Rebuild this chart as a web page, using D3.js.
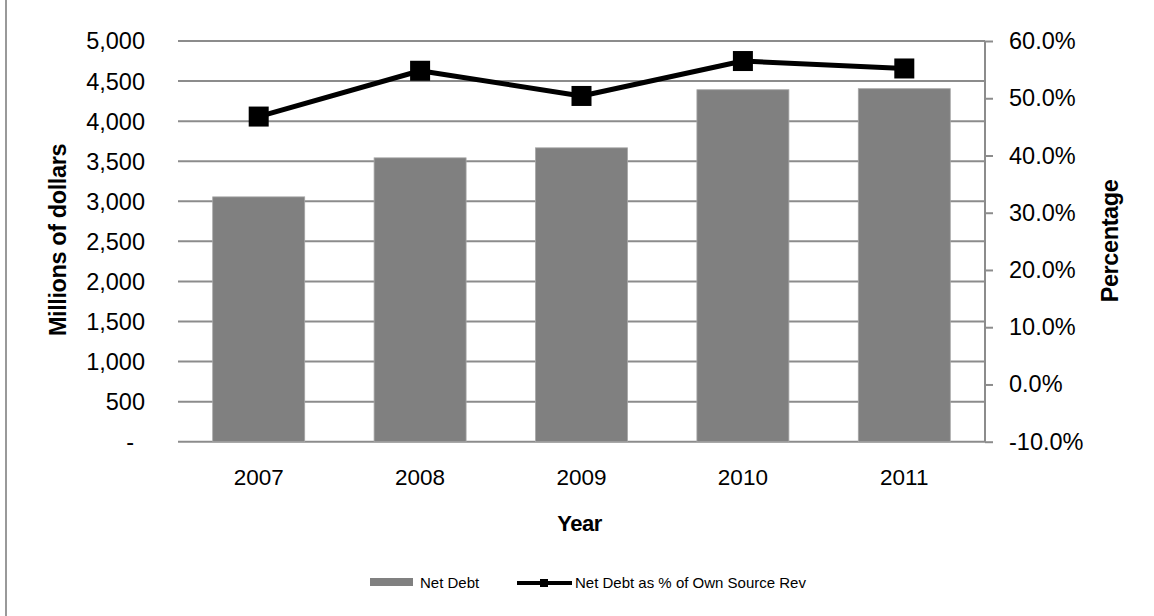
<!DOCTYPE html>
<html><head><meta charset="utf-8">
<script src="https://cdn.jsdelivr.net/npm/d3@7"></script>
<style>body{margin:0;background:#fff}svg{display:block;font-family:"Liberation Sans",Arial,sans-serif}</style>
</head><body><svg id="c" width="1154" height="616"></svg>
<script>
const years = ["2007","2008","2009","2010","2011"];
const netDebt = [3055, 3542, 3667, 4392, 4405];
const netDebtPct = [46.8, 54.8, 50.4, 56.5, 55.2];
const leftTicks = [0,500,1000,1500,2000,2500,3000,3500,4000,4500,5000];
const rightTicks = [-10,0,10,20,30,40,50,60];

const svg = d3.select("#c");
const L = 178, R = 985, T = 41, B = 441.7;
const x = d3.scaleBand().domain(years).range([L, R]).paddingInner(0.43).paddingOuter(0.215);
const xc = d3.scaleBand().domain(years).range([L, R]);
const y = d3.scaleLinear().domain([0, 5000]).range([B, T]);
const y2 = d3.scaleLinear().domain([-10, 60]).range([B, T]);
const grid = "#8c8c8c";
const FS = 23.5;

// frame line
svg.append("line").attr("x1",6).attr("x2",6).attr("y1",0).attr("y2",616).attr("stroke","#999").attr("stroke-width",2);

// gridlines
svg.append("g").selectAll("line").data(leftTicks).join("line")
  .attr("x1",L).attr("x2",R).attr("y1",d=>y(d)).attr("y2",d=>y(d))
  .attr("stroke",grid).attr("stroke-width",2);

// left labels
svg.append("g").selectAll("text").data(leftTicks).join("text")
  .attr("x",d=> d===0 ? 134 : 145).attr("y",d=>y(d)).attr("dy","0.36em").attr("text-anchor","end")
  .attr("font-size",FS).attr("fill","#000")
  .text(d=> d===0 ? "-" : d3.format(",")(d));

// bars
svg.append("g").selectAll("rect").data(years).join("rect")
  .attr("x",d=>x(d)).attr("width",x.bandwidth())
  .attr("y",(d,i)=>y(netDebt[i])).attr("height",(d,i)=>B-y(netDebt[i]))
  .attr("fill","#808080").attr("stroke","#a6a6a6").attr("stroke-width",0.8);

// right axis
const ra = d3.axisRight(y2).tickValues(rightTicks).tickSize(8).tickFormat(d=>d.toFixed(1)+"%");
const rg = svg.append("g").attr("transform",`translate(${R},0)`).call(ra);
rg.select(".domain").attr("stroke",grid).attr("stroke-width",2).attr("d",`M0,${B}V${T}`);
rg.selectAll(".tick line").attr("stroke",grid).attr("stroke-width",2);
rg.selectAll(".tick text").attr("x",24).attr("font-size",FS).attr("fill","#000").attr("font-family","Liberation Sans, Arial, sans-serif");

// x labels
svg.append("g").selectAll("text").data(years).join("text")
  .attr("x",d=>xc(d)+xc.bandwidth()/2).attr("y",485).attr("text-anchor","middle")
  .attr("font-size",22.5).text(d=>d);

// line
const pts = years.map((d,i)=>[xc(d)+xc.bandwidth()/2, y2(netDebtPct[i])]);
svg.append("path").attr("d",d3.line()(pts)).attr("fill","none").attr("stroke","#000").attr("stroke-width",5).attr("stroke-linejoin","round");
svg.append("g").selectAll("rect").data(pts).join("rect")
  .attr("x",d=>d[0]-10).attr("y",d=>d[1]-10).attr("width",20).attr("height",20).attr("fill","#000");

// axis titles
svg.append("text").attr("x",(L+R)/2 - 2).attr("y",531).attr("text-anchor","middle").attr("font-weight","bold").attr("font-size",22).attr("letter-spacing",-0.5).text("Year");
svg.append("text").attr("transform","translate(66,240) rotate(-90)").attr("text-anchor","middle").attr("font-weight","bold").attr("font-size",23.5).attr("letter-spacing",-0.4).text("Millions of dollars");
svg.append("text").attr("transform","translate(1118,241) rotate(-90)").attr("text-anchor","middle").attr("font-weight","bold").attr("font-size",23.5).attr("letter-spacing",-0.4).text("Percentage");

// legend
svg.append("rect").attr("x",370).attr("y",578).attr("width",43).attr("height",8).attr("fill","#808080");
svg.append("text").attr("x",420).attr("y",588).attr("font-size",15).text("Net Debt");
svg.append("line").attr("x1",517).attr("x2",572).attr("y1",583).attr("y2",583).attr("stroke","#000").attr("stroke-width",4);
svg.append("rect").attr("x",540).attr("y",579).attr("width",8).attr("height",8).attr("fill","#000");
svg.append("text").attr("x",575).attr("y",588).attr("font-size",15).text("Net Debt as % of Own Source Rev");
</script></body></html>
